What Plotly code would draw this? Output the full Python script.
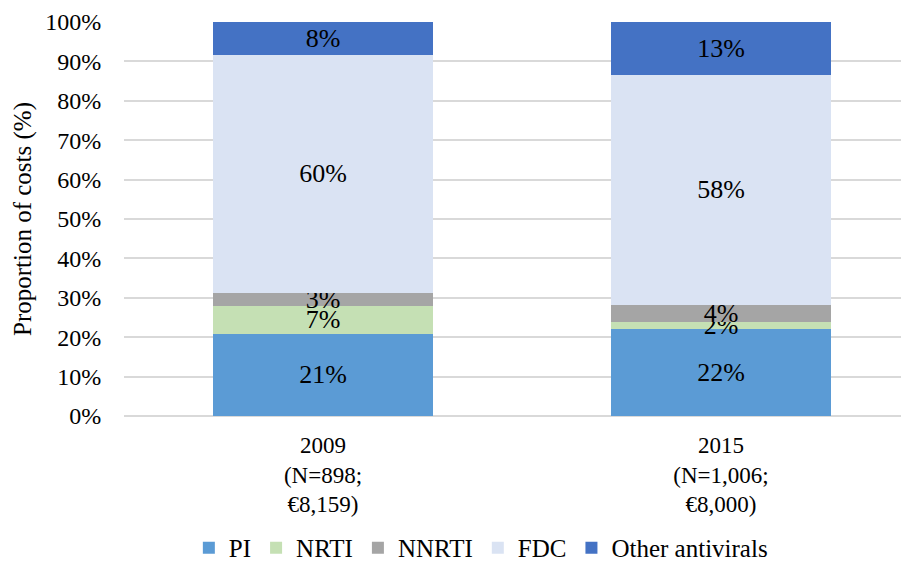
import plotly.graph_objects as go

categories = ["2009<br>(N=898;<br>€8,159)", "2015<br>(N=1,006;<br>€8,000)"]
series_names = ["PI", "NRTI", "NNRTI", "FDC", "Other antivirals"]
pi = [20.9, 22.0]
nrti = [7.0, 1.9]
nnrti = [3.4, 4.4]
fdc = [60.4, 58.3]
other = [8.3, 13.4]
y_ticks = [0, 10, 20, 30, 40, 50, 60, 70, 80, 90, 100]
y_tick_labels = [f"{v}%" for v in y_ticks]

colors = ["#5B9BD5", "#C5E0B4", "#A5A5A5", "#DAE3F3", "#4472C4"]
FONT = "Liberation Serif"

fig = go.Figure()
for name, vals, col in zip(series_names, [pi, nrti, nnrti, fdc, other], colors):
    fig.add_trace(go.Bar(
        name=name, x=categories, y=vals,
        marker=dict(color=col, line=dict(width=0)),
        text=[f"{round(v)}%" for v in vals],
        textposition="inside", insidetextanchor="middle",
        textfont=dict(family=FONT, size=26, color="#000000"),
        width=0.555,
    ))

fig.update_layout(
    barmode="stack",
    width=909, height=576,
    margin=dict(l=116, r=0, t=14, b=168),
    paper_bgcolor="white", plot_bgcolor="white",
    font=dict(family=FONT, size=24, color="#000000"),
    uniformtext=dict(mode="show", minsize=26),
    showlegend=True,
    legend=dict(orientation="h", x=0.45, xanchor="center", xref="paper",
                y=-0.335, yanchor="middle", font=dict(family=FONT, size=25),
                traceorder="normal"),
    xaxis=dict(type="category", range=[-0.5, 1.4925], showgrid=False,
               showline=False, ticks="outside", ticklen=8, tickcolor="white",
               tickfont=dict(family=FONT, size=23)),
    yaxis=dict(range=[0, 100], tickvals=y_ticks, ticktext=y_tick_labels,
               showgrid=True, gridcolor="#D9D9D9", gridwidth=1.5,
               zeroline=True, zerolinecolor="#D9D9D9", zerolinewidth=1.5,
               ticks="outside", ticklen=17, tickcolor="white",
               tickfont=dict(family=FONT, size=24),
               title=dict(text="Proportion of costs (%)", standoff=6,
                          font=dict(family=FONT, size=25))),
)

fig.write_html("out.html")
